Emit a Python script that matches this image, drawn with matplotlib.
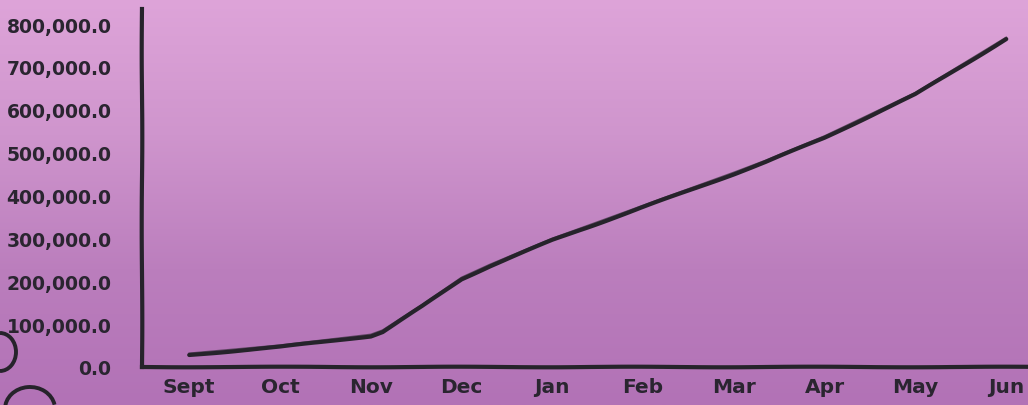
import numpy as np
import matplotlib
matplotlib.use("Agg")
import matplotlib.pyplot as plt
from matplotlib.colors import LinearSegmentedColormap
from matplotlib.patches import Arc
from matplotlib.ticker import FuncFormatter

# months on the x axis
months = ["Sept", "Oct", "Nov", "Dec", "Jan", "Feb", "Mar", "Apr", "May", "Jun"]

# cumulative total, sampled at month positions (plus a few in-between readings)
pos = [0, 1, 2, 2.13, 2.57, 3, 3.31, 4, 5, 6, 6.35, 7, 8, 9]
total = [28000, 47000, 72000, 82000, 142000, 205000, 235000, 296000,
         373000, 450000, 478000, 535000, 636000, 765000]

ink = "#26232b"

fig = plt.figure(figsize=(10.28, 4.06), dpi=100)

# purple paper background
bg = fig.add_axes([0, 0, 1, 1], zorder=0)
cmap = LinearSegmentedColormap.from_list(
    "paper", ["#dea4d9", "#cf95cd", "#bb7ebd", "#b272b6"])
grad = np.linspace(0, 1, 256).reshape(-1, 1)
bg.imshow(grad, aspect="auto", cmap=cmap, extent=[0, 1028, 406, 0])
bg.set_xlim(0, 1028)
bg.set_ylim(406, 0)
bg.axis("off")
# doodle loops in the bottom-left corner
bg.add_patch(Arc((0, 353), 32, 38, theta1=-90, theta2=90, color=ink, lw=2.8))
bg.add_patch(Arc((30, 410), 50, 44, theta1=-180, theta2=-10, color=ink, lw=2.8))

ax = fig.add_axes([142 / 1028, 38 / 406, 886 / 1028, 358 / 406], zorder=1)
ax.patch.set_alpha(0)

line, = ax.plot(pos, total, color=ink, lw=3, solid_capstyle="round")
line.set_sketch_params(scale=0.4, length=150, randomness=2)
ax.plot(pos, [v + 4000 for v in total], color=ink, lw=1.2, alpha=0.6)

ax.set_xlim(-0.52, 9.24)
ax.set_ylim(0, 835000)
ax.set_xticks(range(len(months)))
ax.set_xticklabels(months)
ax.set_yticks(np.arange(0, 800001, 100000))
ax.yaxis.set_major_formatter(FuncFormatter(lambda v, p: f"{v:,.1f}"))

for lbl in ax.get_yticklabels():
    lbl.set_fontweight("bold")
    lbl.set_fontsize(13.5)
    lbl.set_color("#2a2530")
for lbl in ax.get_xticklabels():
    lbl.set_fontweight("bold")
    lbl.set_fontsize(14.5)
    lbl.set_color("#2a2530")
ax.tick_params(axis="both", length=0)
ax.tick_params(axis="y", pad=22)
ax.tick_params(axis="x", pad=7)

for s in ["top", "right"]:
    ax.spines[s].set_visible(False)
for s in ["left", "bottom"]:
    ax.spines[s].set_color(ink)
    ax.spines[s].set_linewidth(3)
    ax.spines[s].set_sketch_params(scale=0.3, length=200, randomness=2)

fig.savefig("out.png", dpi=100)
